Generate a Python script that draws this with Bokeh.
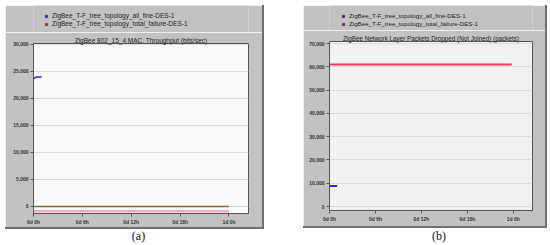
from bokeh.plotting import figure
from bokeh.models import Legend, LegendItem, Range1d, FixedTicker, Div, Spacer, NumeralTickFormatter
from bokeh.layouts import row, column
from bokeh.embed import file_html
from bokeh.resources import INLINE

# ---- data ----
series_names = ["ZigBee_T-F_tree_topology_all_fine-DES-1",
                "ZigBee_T-F_tree_topology_total_failure-DES-1"]
series_colors = ["#1c1ce0", "#e01010"]
x_tick_hours = [0, 6, 12, 18, 24]
x_tick_labels = ["0d 0h", "0d 6h", "0d 12h", "0d 18h", "1d 0h"]

# (a) MAC throughput (bits/sec)
a_fine_hours = [0.0, 0.3, 1.0]
a_fine_vals = [23600, 23900, 23900]
a_fail_hours = [0.0, 24.0]
a_fail_vals = [0, 0]
a_fail2_hours = [0.0, 24.0]
a_fail2_vals = [-900, -900]
a_yticks = [0, 5000, 10000, 15000, 20000, 25000, 30000]

# (b) Network layer packets dropped (packets)
b_fine_hours = [0.0, 1.0]
b_fine_vals = [8800, 8800]
b_fail_hours = [0.0, 23.8]
b_fail_vals = [61000, 61000]
b_yticks = [0, 10000, 20000, 30000, 40000, 50000, 60000, 70000]

BLUE = "#2a2ad8"
RED = "#f04060"
PANEL = "#c2c2c2"
FONT = "Liberation Sans"


def make_header(width, height, lfs, loc):
    h = figure(width=width, height=height, x_range=Range1d(0, 1), y_range=Range1d(0, 1),
               output_backend="svg", toolbar_location=None,
               x_axis_type=None, y_axis_type=None,
               min_border_left=0, min_border_right=0, min_border_top=0, min_border_bottom=0)
    h.border_fill_color = PANEL
    h.background_fill_color = PANEL
    h.outline_line_color = None
    h.grid.visible = False
    # legend proxies: one off-range point each, so the legend can draw its square swatch
    rs = [h.scatter([-5], [-5], marker="square", size=7, fill_color=c, line_color="#333333",
                    line_width=0.5) for c in series_colors]
    leg = Legend(items=[LegendItem(label=n, renderers=[r], index=0)
                        for n, r in zip(series_names, rs)],
                 location=loc, orientation="vertical",
                 label_text_font=FONT, label_text_font_size=lfs, label_text_color="#222222",
                 glyph_width=6, glyph_height=6, label_height=7, label_standoff=3,
                 spacing=1, padding=0, margin=0,
                 background_fill_alpha=0, border_line_alpha=0)
    h.add_layout(leg, "center")
    return h


def make_panel(width, height, xr, yr, yticks, title, tfs, borders, bg):
    p = figure(width=width, height=height, x_range=Range1d(*xr), y_range=Range1d(*yr),
               output_backend="svg", toolbar_location=None,
               min_border_left=borders[0], min_border_right=borders[1],
               min_border_top=borders[2], min_border_bottom=borders[3])
    p.border_fill_color = PANEL
    p.background_fill_color = bg
    p.outline_line_color = "#555555"
    p.outline_line_width = 1
    p.title.text = title
    p.title.align = "center"
    p.title.text_font = FONT
    p.title.text_font_size = tfs
    p.title.text_font_style = "normal"
    p.title.text_color = "#222222"
    p.title.standoff = 0
    p.title.offset = 0
    p.xgrid.visible = False
    p.ygrid.grid_line_color = "#dcdcdc"
    p.ygrid.grid_line_width = 1
    for ax in (p.xaxis[0], p.yaxis[0]):
        ax.major_label_text_font = FONT
        ax.major_label_text_font_size = "5px"
        ax.major_label_text_font_style = "bold"
        ax.major_label_text_color = "#333333"
        ax.axis_line_color = "#555555"
        ax.major_tick_line_color = "#555555"
        ax.major_tick_out = 3
        ax.major_tick_in = 0
        ax.minor_tick_line_color = None
        ax.major_label_standoff = 2
    p.xaxis.ticker = FixedTicker(ticks=x_tick_hours)
    p.xaxis.major_label_overrides = dict(zip(x_tick_hours, x_tick_labels))
    p.yaxis.ticker = FixedTicker(ticks=yticks)
    p.yaxis.formatter = NumeralTickFormatter(format="0,0")
    return p


ha = make_header(257, 27, "6.5px", (10, 5))
pa = make_panel(257, 195, (0, 26.4), (-1300, 30100), a_yticks,
                "ZigBee 802_15_4 MAC. Throughput (bits/sec)", "6.5px",
                (28, 14, 11, 11), "#f9f9f9")
pa.line(a_fail2_hours, a_fail2_vals, line_color="#f2a8c4", line_width=2.5)
pa.line(a_fail_hours, a_fail_vals, line_color="#8a6a30", line_width=1.5)
pa.line(a_fine_hours, a_fine_vals, line_color=BLUE, line_width=1.5)

hb = make_header(242, 25, "6.2px", (11, 3))
pb = make_panel(242, 196, (0, 26.5), (-1700, 70900), b_yticks,
                "ZigBee Network Layer Packets Dropped (Not Joined) (packets)", "6.3px",
                (26, 13, 11, 16), "#f1f1f1")
pb.line(b_fail_hours, b_fail_vals, line_color=RED, line_width=2)
pb.line(b_fine_hours, b_fine_vals, line_color=BLUE, line_width=2)

shadow = {"box-shadow": "1px 1px 0px 1px #707070"}
col_a = column(ha, pa, spacing=0, styles=shadow)
col_b = column(hb, pb, spacing=0, styles=shadow)

lab_style = {"font-family": "Liberation Serif", "font-size": "12px", "color": "#111111",
             "text-align": "center", "width": "100%", "line-height": "12px",
             "position": "relative", "top": "-2px"}
da = Div(text="(a)", width=257, height=18, styles=lab_style)
db = Div(text="(b)", width=242, height=18, styles=lab_style)

top = row(Spacer(width=5), col_a, Spacer(width=41), col_b, spacing=0)
bottom = row(Spacer(width=5), da, Spacer(width=41), db, spacing=0)
layout = column(Spacer(height=5), top, bottom, spacing=0)

open("out.html", "w").write(file_html(layout, INLINE))
